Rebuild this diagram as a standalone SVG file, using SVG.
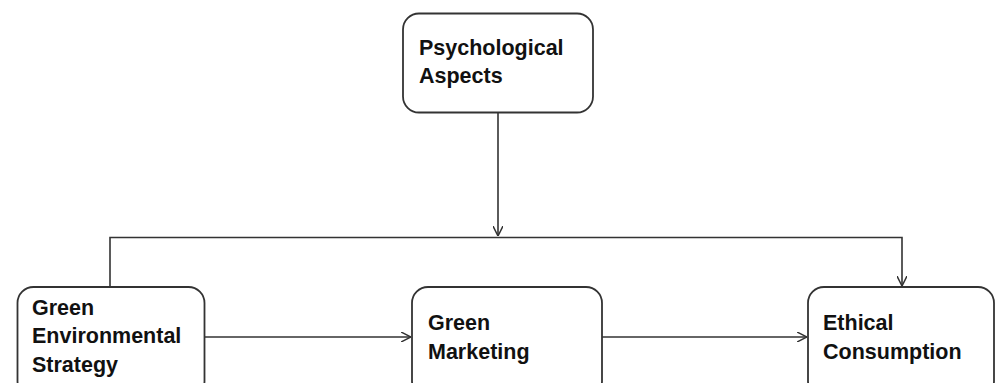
<svg xmlns="http://www.w3.org/2000/svg" width="995" height="383" viewBox="0 0 995 383">
<style>
.box{fill:#fff;stroke:#333;stroke-width:1.8}
.lbl{font-family:"Liberation Sans",Arial,sans-serif;font-weight:bold;font-size:21.5px;fill:#111}
.con{fill:none;stroke:#333;stroke-width:1.6}
</style>
<defs>
<marker id="arr" viewBox="0 0 10 10" refX="10" refY="5" markerWidth="10" markerHeight="10" markerUnits="userSpaceOnUse" orient="auto">
<path d="M0,0 L10,5 L0,10" fill="none" stroke="#333" stroke-width="1.5"/>
</marker>
</defs>
<rect width="995" height="383" fill="#fff"/>
<g id="connectors">
<path class="con" d="M498,113 V236" marker-end="url(#arr)"/>
<path class="con" d="M110,287 V237.5 H902 V286" marker-end="url(#arr)"/>
<path class="con" d="M205,337 H411" marker-end="url(#arr)"/>
<path class="con" d="M602,337 H807" marker-end="url(#arr)"/>
</g>
<g id="psychological">
<rect class="box" x="403" y="13.5" width="190" height="99" rx="16"/>
<text class="lbl" x="419" y="55">Psychological</text>
<text class="lbl" x="419" y="83">Aspects</text>
</g>
<g id="green-environmental-strategy">
<rect class="box" x="17.5" y="287" width="187" height="110" rx="16"/>
<text class="lbl" x="32" y="315">Green</text>
<text class="lbl" x="32" y="343">Environmental</text>
<text class="lbl" x="32" y="371.5">Strategy</text>
</g>
<g id="green-marketing">
<rect class="box" x="412" y="287" width="190" height="110" rx="16"/>
<text class="lbl" x="428" y="330">Green</text>
<text class="lbl" x="428" y="359">Marketing</text>
</g>
<g id="ethical-consumption">
<rect class="box" x="808" y="287" width="186" height="110" rx="16"/>
<text class="lbl" x="823" y="330">Ethical</text>
<text class="lbl" x="823" y="358.5">Consumption</text>
</g>
</svg>
